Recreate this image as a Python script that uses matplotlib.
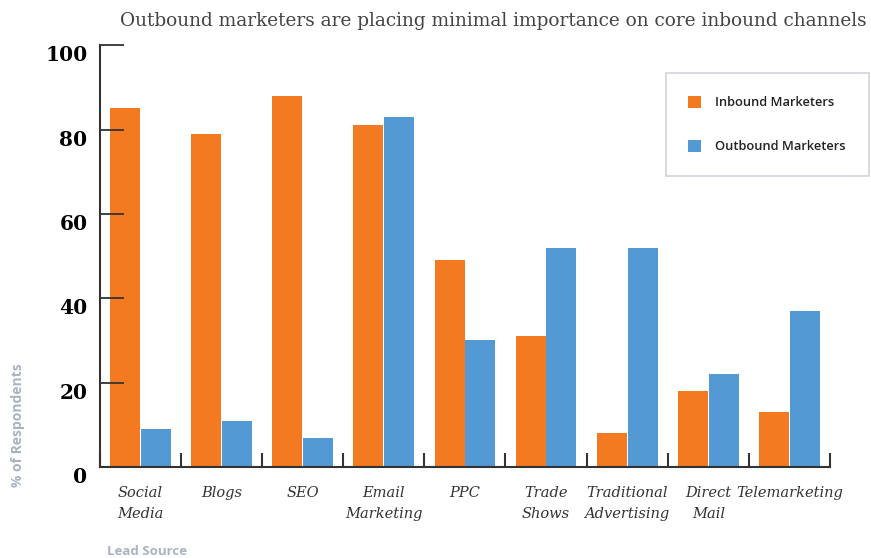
import matplotlib
matplotlib.use('Agg')
import matplotlib.pyplot as plt
import numpy as np

categories = ['Social\nMedia', 'Blogs', 'SEO', 'Email\nMarketing', 'PPC',
              'Trade\nShows', 'Traditional\nAdvertising', 'Direct\nMail', 'Telemarketing']
inbound = [85, 79, 88, 81, 49, 31, 8, 18, 13]
outbound = [9, 11, 7, 83, 30, 52, 52, 22, 37]
yticks = [0, 20, 40, 60, 80, 100]

orange = '#F47A22'
blue = '#5399D4'
axcol = '#333333'

fig = plt.figure(figsize=(8.71, 5.58), dpi=100)
ax = fig.add_axes([0.1148, 0.163, 0.838, 0.756])

x = np.arange(len(categories))
w = 0.37
ax.bar(x - 0.19, inbound, w, color=orange, label='Inbound Marketers')
ax.bar(x + 0.19, outbound, w, color=blue, label='Outbound Marketers')

ax.set_xlim(-0.5, len(categories) - 0.5)
ax.set_ylim(0, 100)

for s in ['top', 'right']:
    ax.spines[s].set_visible(False)
for s in ['left', 'bottom']:
    ax.spines[s].set_color(axcol)
    ax.spines[s].set_linewidth(1.5)

ax.set_yticks(yticks)
ax.set_yticklabels([str(v) for v in yticks], fontfamily='DejaVu Serif',
                   fontweight='bold', fontsize=14.5, color='black', va='top')
ax.tick_params(axis='y', direction='in', length=17, width=1.3, color=axcol, pad=9)

ax.set_xticks(x)
ax.set_xticklabels(categories, fontfamily='DejaVu Serif', style='italic',
                   fontsize=10.5, color='#333333', va='top', linespacing=1.55)
ax.tick_params(axis='x', length=0, pad=14)
ax.set_xticks(np.arange(len(categories) + 1) - 0.5, minor=True)
ax.tick_params(axis='x', which='minor', direction='in', length=10, width=1.5, color=axcol)

fig.text(0.566, 0.962, 'Outbound marketers are placing minimal importance on core inbound channels',
         ha='center', va='center', fontfamily='DejaVu Serif', fontsize=13.3, color='#444444')

fig.text(0.021, 0.238, '% of Respondents', rotation=90, ha='center', va='center',
         fontfamily='Open Sans', fontweight='bold', fontsize=10, color='#aab3c2')
fig.text(0.123, 0.011, 'Lead Source', ha='left', va='center',
         fontfamily='Open Sans', fontweight='bold', fontsize=9.5, color='#aab3c2')

leg = ax.legend(loc='upper left', bbox_to_anchor=(0.775, 0.934), borderaxespad=0,
                frameon=True, fancybox=False, edgecolor='#c4c9d2',
                handlelength=1.0, handleheight=1.1,
                labelspacing=2.35, borderpad=1.75, handletextpad=1.1,
                prop={'family': 'Open Sans', 'weight': 'semibold', 'size': 9.3})
leg.get_frame().set_linewidth(1.2)
for t in leg.get_texts():
    t.set_color('#222222')

fig.savefig('out.png', dpi=100)
